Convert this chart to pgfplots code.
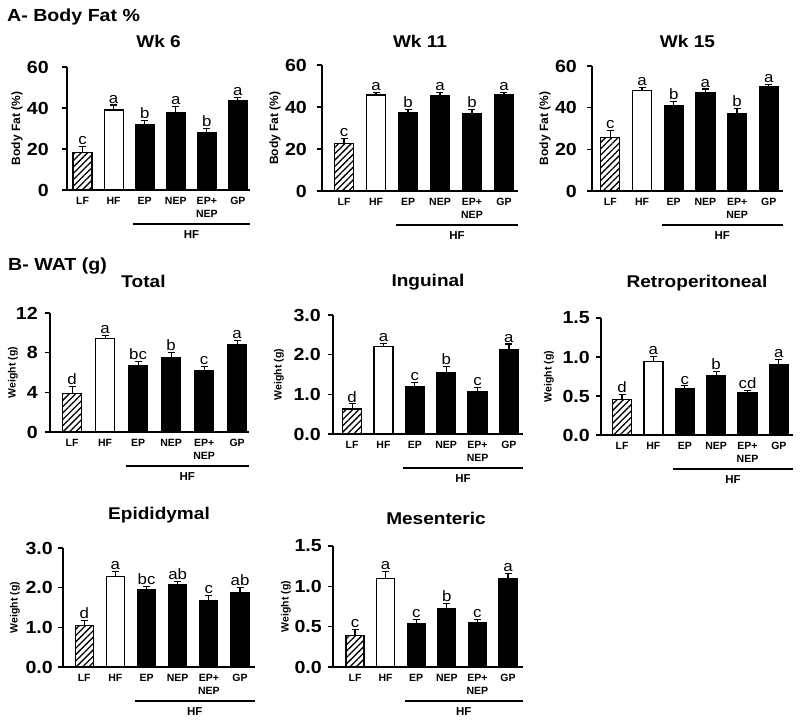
\documentclass[border=0pt]{standalone}
\usepackage{fontspec}
\setmainfont{Liberation Sans}
\newfontfamily\wide{Liberation Sans}[FakeStretch=1.12]
\usepackage{pgfplots}
\pgfplotsset{compat=1.18}
\usepackage{pgfplotstable}
\usetikzlibrary{patterns.meta}

\pgfplotstableread{
x y e lab
0 18.2 3.0 c
1 39.0 2.5 a
2 31.7 2.3 b
3 37.9 2.7 a
4 28.0 2.0 b
5 43.4 1.6 a
}\wksix
\pgfplotstableread{
x y e lab
0 22.6 2.4 c
1 45.7 1.1 a
2 37.4 1.6 b
3 45.2 1.6 a
4 36.8 2.2 b
5 45.7 1.4 a
}\wkeleven
\pgfplotstableread{
x y e lab
0 25.8 3.3 c
1 48.1 1.7 a
2 40.9 2.1 b
3 47.3 1.7 a
4 37.1 2.4 b
5 50.1 1.1 a
}\wkfifteen
\pgfplotstableread{
x y e lab
0 3.90 0.70 d
1 9.43 0.34 a
2 6.69 0.40 bc
3 7.52 0.48 b
4 6.15 0.44 c
5 8.86 0.40 a
}\total
\pgfplotstableread{
x y e lab
0 0.63 0.13 d
1 2.20 0.09 a
2 1.19 0.10 c
3 1.55 0.15 b
4 1.07 0.11 c
5 2.14 0.13 a
}\inguinal
\pgfplotstableread{
x y e lab
0 0.456 0.064 d
1 0.946 0.064 a
2 0.597 0.033 c
3 0.767 0.043 b
4 0.545 0.030 cd
5 0.907 0.063 a
}\retro
\pgfplotstableread{
x y e lab
0 1.04 0.14 d
1 2.29 0.12 a
2 1.95 0.08 bc
3 2.09 0.07 ab
4 1.68 0.12 c
5 1.88 0.13 ab
}\epid
\pgfplotstableread{
x y e lab
0 0.394 0.070 c
1 1.098 0.082 a
2 0.539 0.054 c
3 0.725 0.062 b
4 0.547 0.046 c
5 1.090 0.070 a
}\mesent

\pgfplotsset{
  pan/.style={
    scale only axis, anchor=south west,
    axis x line*=bottom, axis y line*=left,
    axis line style={line width=1.3pt, black},
    ymin=0, xtick={0,1,2,3,4,5},
    xticklabels={LF,HF,EP,NEP,{EP+\\NEP},GP},
    xticklabel style={font=\fontsize{10.5}{13}\selectfont\bfseries, align=center, anchor=north, inner sep=2pt},
    x tick style={draw=none},
    y tick style={line width=1.3pt, black},
    tick align=outside, major tick length=5pt,
    yticklabel style={font=\wide\fontsize{17.5}{17.5}\selectfont\bfseries, inner sep=1pt},
    /pgf/number format/assume math mode=true,
    clip=false,
    title style={font=\wide\fontsize{17}{17}\selectfont\bfseries, at={(0.5,1)}, anchor=base},
    every axis y label/.style={rotate=90, anchor=center, font=\fontsize{10.5}{10.5}\selectfont\bfseries},
  },
  onedec/.style={yticklabel style={/pgf/number format/fixed, /pgf/number format/fixed zerofill, /pgf/number format/precision=1}},
  barbase/.style={ybar, bar shift=0pt, line width=1.2pt, draw=black,
    /pgfplots/error bars/y dir=plus, /pgfplots/error bars/y explicit,
    /pgfplots/error bars/error bar style={line width=1.2pt, black},
    /pgfplots/error bars/error mark options={rotate=90, mark size=3.5pt, line width=1.2pt, black}},
  lfbar/.style={pattern={Lines[angle=45,distance=4.5pt,line width=1.3pt]}, pattern color=black, barbase},
  hfbar/.style={fill=white, barbase},
  bkbar/.style={fill=black, barbase},
  letters/.style={draw=none, mark=none, nodes near coords, point meta=explicit symbolic,
     nodes near coords style={anchor=south, inner sep=1.5pt, font=\wide\fontsize{15}{15}\selectfont, text=black}},
}

\newcommand\drawbars[1]{%
  \addplot[skip coords between index={1}{6}, lfbar] table[x=x,y=y,y error=e]{#1};
  \addplot[skip coords between index={0}{1}, skip coords between index={2}{6}, hfbar] table[x=x,y=y,y error=e]{#1};
  \addplot[skip coords between index={0}{2}, bkbar] table[x=x,y=y,y error=e]{#1};
  \addplot[letters] table[x=x,y expr=\thisrow{y}+\thisrow{e},meta=lab]{#1};
  \draw[line width=1.8pt] ([yshift=-34pt]axis cs:1.62,0) -- node[below=2.5pt, font=\fontsize{11.5}{11.5}\selectfont\bfseries]{HF} ([yshift=-34pt]rel axis cs:1,0);
}

\begin{document}
\begin{tikzpicture}
\useasboundingbox (0,0) rectangle (800pt,-724pt);
\node[anchor=base west, font=\wide\fontsize{17.5}{17.5}\selectfont\bfseries, inner sep=0pt] at (7pt,-21.5pt) {A- Body Fat \%};
\node[anchor=base west, font=\wide\fontsize{17.5}{17.5}\selectfont\bfseries, inner sep=0pt] at (8pt,-270.5pt) {B- WAT (g)};

% Wk 6
\begin{axis}[pan, at={(67pt,-190pt)}, width=183pt, height=123pt, xmin=-0.5, xmax=5.39,
  ymax=60, ytick={0,20,40,60}, bar width=19pt, title={Wk 6}, title style={yshift=14pt},
  yticklabel style={xshift=-12pt},
  ylabel={Body Fat (\%)}, ylabel style={at={([xshift=-50pt]axis description cs:0,0.5)}, font=\fontsize{12}{12}\selectfont\bfseries}]
\drawbars{\wksix}
\end{axis}
% Wk 11
\begin{axis}[pan, at={(322pt,-191pt)}, width=196pt, height=126pt, xmin=-0.69, xmax=5.44,
  ymax=60, ytick={0,20,40,60}, bar width=19pt, title={Wk 11}, title style={yshift=12pt},
  yticklabel style={xshift=-9pt},
  ylabel={Body Fat (\%)}, ylabel style={at={([xshift=-47pt]axis description cs:0,0.5)}, font=\fontsize{12}{12}\selectfont\bfseries}]
\drawbars{\wkeleven}
\end{axis}
% Wk 15
\begin{axis}[pan, at={(592pt,-191pt)}, width=191pt, height=125pt, xmin=-0.58, xmax=5.45,
  ymax=60, ytick={0,20,40,60}, bar width=19pt, title={Wk 15}, title style={yshift=13pt},
  yticklabel style={xshift=-9pt},
  ylabel={Body Fat (\%)}, ylabel style={at={([xshift=-47pt]axis description cs:0,0.5)}, font=\fontsize{12}{12}\selectfont\bfseries}]
\drawbars{\wkfifteen}
\end{axis}
% Total
\begin{axis}[pan, at={(50pt,-432pt)}, width=199pt, height=119pt, xmin=-0.67, xmax=5.36,
  ymax=12, ytick={0,4,8,12}, bar width=19pt, title={Total}, title style={yshift=20pt, xshift=-6pt},
  yticklabel style={xshift=-6pt},
  ylabel={Weight (g)}, ylabel style={at={([xshift=-37pt]axis description cs:0,0.5)}}]
\drawbars{\total}
\end{axis}
% Inguinal
\begin{axis}[pan, onedec, at={(333pt,-434pt)}, width=190pt, height=119pt, xmin=-0.61, xmax=5.45,
  ymax=3, ytick={0,1,2,3}, bar width=19pt, title={Inguinal}, title style={yshift=23pt},
  yticklabel style={xshift=-6pt},
  ylabel={Weight (g)}, ylabel style={at={([xshift=-54pt]axis description cs:0,0.5)}}]
\drawbars{\inguinal}
\end{axis}
% Retroperitoneal
\begin{axis}[pan, onedec, at={(601pt,-435pt)}, width=192pt, height=117pt, xmin=-0.67, xmax=5.45,
  ymax=1.5, ytick={0,0.5,1,1.5}, bar width=19pt, title={Retroperitoneal}, title style={yshift=25pt},
  yticklabel style={xshift=-5pt},
  ylabel={Weight (g)}, ylabel style={at={([xshift=-52pt]axis description cs:0,0.5)}}]
\drawbars{\retro}
\end{axis}
% Epididymal
\begin{axis}[pan, onedec, at={(63pt,-667pt)}, width=192pt, height=119pt, xmin=-0.68, xmax=5.48,
  ymax=3, ytick={0,1,2,3}, bar width=18pt, title={Epididymal}, title style={yshift=23pt},
  yticklabel style={xshift=-4pt},
  ylabel={Weight (g)}, ylabel style={at={([xshift=-48pt]axis description cs:0,0.5)}}]
\drawbars{\epid}
\end{axis}
% Mesenteric
\begin{axis}[pan, onedec, at={(333pt,-667pt)}, width=190pt, height=121pt, xmin=-0.72, xmax=5.49,
  ymax=1.5, ytick={0,0.5,1,1.5}, bar width=18pt, title={Mesenteric}, title style={yshift=16pt, xshift=8pt},
  yticklabel style={xshift=-5pt},
  ylabel={Weight (g)}, ylabel style={at={([xshift=-47pt]axis description cs:0,0.5)}}]
\drawbars{\mesent}
\end{axis}
\end{tikzpicture}
\end{document}
